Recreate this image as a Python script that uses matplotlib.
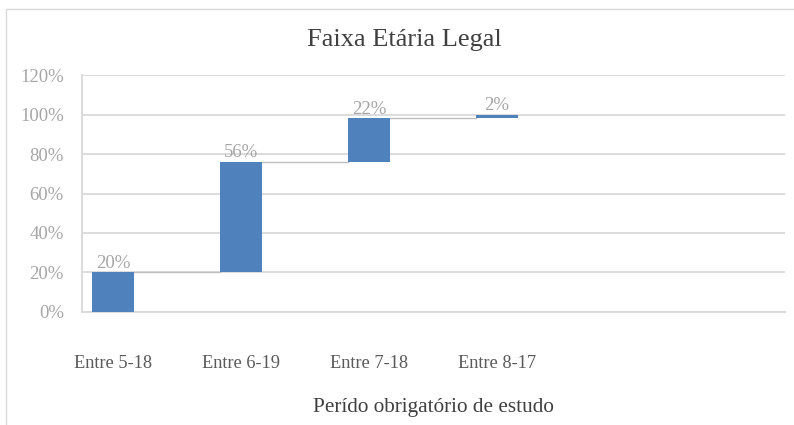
import numpy as np
import matplotlib.pyplot as plt
import matplotlib.patches as mpatches

# dados do gráfico
categorias = ["Entre 5-18", "Entre 6-19", "Entre 7-18", "Entre 8-17"]
valores = [20, 56, 22, 2]
rotulos = ["20%", "56%", "22%", "2%"]
ticks_y = [0, 20, 40, 60, 80, 100, 120]

plt.rcParams['font.family'] = ['Liberation Serif', 'DejaVu Serif']

fig = plt.figure(figsize=(7.94, 4.25), dpi=100)
ax = fig.add_axes([0.1033, 0.2659, 0.8854, 0.5576])

x = np.arange(len(categorias))
base = np.concatenate([[0], np.cumsum(valores)[:-1]])
topo = base + np.array(valores)
largura = 0.33

ax.bar(x, valores, bottom=base, width=largura, color='#4F81BD', zorder=3)

# linhas de ligação entre as barras
for i in range(len(x) - 1):
    ax.plot([x[i] + largura / 2, x[i + 1] - largura / 2], [topo[i], topo[i]],
            color='#BFBFBF', linewidth=1, zorder=2)

for xi, yi, txt in zip(x, topo, rotulos):
    ax.annotate(txt, (xi, yi), xytext=(0, 0.5), textcoords='offset points',
                ha='center', va='bottom', fontsize=13.5, color='#A6A6A6')

ax.set_xlim(-0.242, 5.25)
ax.set_ylim(0, 120)
ax.set_yticks(ticks_y)
ax.set_yticklabels([f"{t}%" for t in ticks_y])
ax.set_xticks(x)
ax.set_xticklabels(categorias)
ax.tick_params(axis='y', length=0, pad=13, labelsize=13.5, labelcolor='#A6A6A6')
ax.tick_params(axis='x', length=0, pad=31, labelsize=13.2, labelcolor='#595959')
ax.grid(axis='y', color='#D9D9D9', linewidth=1.3, zorder=0)

for lado in ['top', 'right']:
    ax.spines[lado].set_visible(False)
ax.spines['left'].set_color('#D9D9D9')
ax.spines['left'].set_linewidth(1.3)
ax.spines['bottom'].set_color('#D9D9D9')
ax.spines['bottom'].set_linewidth(1.3)

ax.set_xlabel("Perído obrigatório de estudo", fontsize=15.3, color='#404040', labelpad=19)
fig.text(404 / 794, 1 - 40 / 425, "Faixa Etária Legal", fontsize=19,
         color='#404040', ha='center', va='center')

# moldura do gráfico
fig.patches.append(mpatches.Rectangle((6 / 794, -0.1), 1.1, 1 - 9 / 425 + 0.1,
                                      transform=fig.transFigure, fill=False,
                                      edgecolor='#D9D9D9', linewidth=1))

fig.savefig("out.png", dpi=100)
